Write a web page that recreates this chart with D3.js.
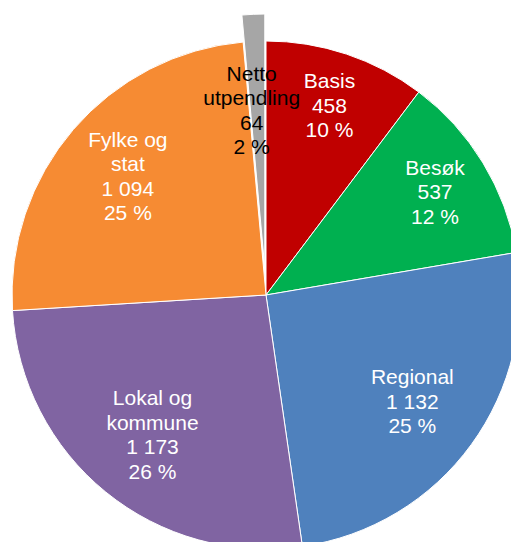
<!DOCTYPE html>
<html>
<head>
<meta charset="utf-8">
<script src="https://cdn.jsdelivr.net/npm/d3@7"></script>
<style>
  body { margin: 0; background: #fff; }
  svg { display: block; font-family: "Liberation Sans", Arial, sans-serif; }
</style>
</head>
<body>
<div id="chart"></div>
<script>
var width = 511, height = 542;

var categories = ["Basis", "Besøk", "Regional", "Lokal og\nkommune", "Fylke og\nstat", "Netto\nutpendling"];
var values = [458, 537, 1132, 1173, 1094, 64];
var percents = ["10 %", "12 %", "25 %", "26 %", "25 %", "2 %"];
var colors = ["#c00000", "#00b050", "#4f81bd", "#8064a2", "#f68b33", "#a6a6a6"];
var textColors = ["#fff", "#fff", "#fff", "#fff", "#fff", "#000"];
var exploded = [false, false, false, false, false, true];

var cx = 266, cy = 295, radius = 254;
var explodeOffset = 27;
var fmt = d3.format(",");

var svg = d3.select("#chart").append("svg")
  .attr("width", width)
  .attr("height", height);

var g = svg.append("g")
  .attr("transform", "translate(" + cx + "," + cy + ")");

var data = values.map(function(v, i) {
  return { name: categories[i], value: v, pct: percents[i], color: colors[i], text: textColors[i], explode: exploded[i] };
});

var pie = d3.pie().sort(null).value(d => d.value);
var arcs = pie(data);

var arc = d3.arc().innerRadius(0).outerRadius(radius);

function offset(d) {
  if (!d.data.explode) return [0, 0];
  var a = (d.startAngle + d.endAngle) / 2;
  return [Math.sin(a) * explodeOffset, -Math.cos(a) * explodeOffset];
}

// labels sit a bit further out on narrow slices, like Excel's best fit
function labelPos(d) {
  var a = (d.startAngle + d.endAngle) / 2;
  var deg = (d.endAngle - d.startAngle) * 180 / Math.PI;
  var r = 213 - 0.35 * deg;
  var o = offset(d);
  if (d.data.explode) return [Math.sin(a) * 158 - 6 + o[0], -Math.cos(a) * 158 + o[1]];
  return [Math.sin(a) * r, -Math.cos(a) * r];
}

g.selectAll(".slice")
  .data(arcs).join("path")
  .attr("class", "slice")
  .attr("transform", d => "translate(" + offset(d) + ")")
  .attr("d", arc)
  .style("fill", d => d.data.color)
  .style("stroke", "#fff")
  .style("stroke-width", 1);

var labels = g.selectAll(".label")
  .data(arcs).join("text")
  .attr("class", "label")
  .attr("transform", d => "translate(" + labelPos(d) + ")")
  .attr("text-anchor", "middle")
  .style("font-size", "21px")
  .style("fill", d => d.data.text);

labels.each(function(d) {
  var lines = d.data.name.split("\n").concat([fmt(d.data.value).replace(/,/g, " "), d.data.pct]);
  var t = d3.select(this);
  var lh = 24.5;
  var y0 = -(lines.length - 1) * lh / 2;
  lines.forEach(function(l, i) {
    t.append("tspan")
      .attr("x", 0)
      .attr("y", y0 + i * lh)
      .attr("dy", "0.35em")
      .text(l);
  });
});
</script>
</body>
</html>
